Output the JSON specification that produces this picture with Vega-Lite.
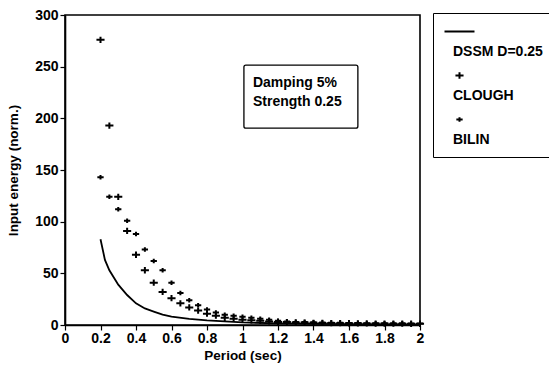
{
  "$schema": "https://vega.github.io/schema/vega-lite/v6.json",
  "width": 355,
  "height": 310,
  "autosize": {"type": "none"},
  "padding": {"left": 65, "top": 15, "right": 129, "bottom": 43},
  "config": {
    "font": "Liberation Sans",
    "view": {"stroke": "black", "strokeWidth": 1.6},
    "style": {"guide-label": {"lineHeight": 13}},
    "axis": {"domainColor": "black", "domainWidth": 1.6, "tickColor": "black", "tickWidth": 1.2, "labelColor": "black", "titleColor": "black", "labelFontSize": 14, "labelFontWeight": "bold", "titleFontSize": 13.5, "titleFontWeight": "bold", "grid": false, "tickSize": 5, "labelOverlap": false}
  },
  "datasets": {
    "pts": [
      {"period": 0.2, "energy": 276, "series": "CLOUGH"},
      {"period": 0.25, "energy": 193, "series": "CLOUGH"},
      {"period": 0.3, "energy": 124, "series": "CLOUGH"},
      {"period": 0.35, "energy": 91, "series": "CLOUGH"},
      {"period": 0.4, "energy": 68, "series": "CLOUGH"},
      {"period": 0.45, "energy": 53, "series": "CLOUGH"},
      {"period": 0.5, "energy": 41, "series": "CLOUGH"},
      {"period": 0.55, "energy": 32, "series": "CLOUGH"},
      {"period": 0.6, "energy": 26, "series": "CLOUGH"},
      {"period": 0.65, "energy": 21, "series": "CLOUGH"},
      {"period": 0.7, "energy": 17, "series": "CLOUGH"},
      {"period": 0.75, "energy": 14, "series": "CLOUGH"},
      {"period": 0.8, "energy": 11, "series": "CLOUGH"},
      {"period": 0.85, "energy": 9, "series": "CLOUGH"},
      {"period": 0.9, "energy": 7, "series": "CLOUGH"},
      {"period": 0.95, "energy": 6, "series": "CLOUGH"},
      {"period": 1.0, "energy": 5, "series": "CLOUGH"},
      {"period": 1.05, "energy": 4.5, "series": "CLOUGH"},
      {"period": 1.1, "energy": 4, "series": "CLOUGH"},
      {"period": 1.15, "energy": 3.5, "series": "CLOUGH"},
      {"period": 1.2, "energy": 3, "series": "CLOUGH"},
      {"period": 1.25, "energy": 2.8, "series": "CLOUGH"},
      {"period": 1.3, "energy": 2.5, "series": "CLOUGH"},
      {"period": 1.35, "energy": 2.3, "series": "CLOUGH"},
      {"period": 1.4, "energy": 2.1, "series": "CLOUGH"},
      {"period": 1.45, "energy": 2, "series": "CLOUGH"},
      {"period": 1.5, "energy": 1.9, "series": "CLOUGH"},
      {"period": 1.55, "energy": 1.8, "series": "CLOUGH"},
      {"period": 1.6, "energy": 1.7, "series": "CLOUGH"},
      {"period": 1.65, "energy": 1.6, "series": "CLOUGH"},
      {"period": 1.7, "energy": 1.5, "series": "CLOUGH"},
      {"period": 1.75, "energy": 1.4, "series": "CLOUGH"},
      {"period": 1.8, "energy": 1.4, "series": "CLOUGH"},
      {"period": 1.85, "energy": 1.3, "series": "CLOUGH"},
      {"period": 1.9, "energy": 1.3, "series": "CLOUGH"},
      {"period": 1.95, "energy": 1.2, "series": "CLOUGH"},
      {"period": 2.0, "energy": 1.2, "series": "CLOUGH"},
      {"period": 0.2, "energy": 143, "series": "BILIN"},
      {"period": 0.25, "energy": 124, "series": "BILIN"},
      {"period": 0.3, "energy": 112, "series": "BILIN"},
      {"period": 0.35, "energy": 101, "series": "BILIN"},
      {"period": 0.4, "energy": 88, "series": "BILIN"},
      {"period": 0.45, "energy": 73, "series": "BILIN"},
      {"period": 0.5, "energy": 62, "series": "BILIN"},
      {"period": 0.55, "energy": 53, "series": "BILIN"},
      {"period": 0.6, "energy": 41, "series": "BILIN"},
      {"period": 0.65, "energy": 31, "series": "BILIN"},
      {"period": 0.7, "energy": 24, "series": "BILIN"},
      {"period": 0.75, "energy": 19, "series": "BILIN"},
      {"period": 0.8, "energy": 15, "series": "BILIN"},
      {"period": 0.85, "energy": 12, "series": "BILIN"},
      {"period": 0.9, "energy": 10, "series": "BILIN"},
      {"period": 0.95, "energy": 9, "series": "BILIN"},
      {"period": 1.0, "energy": 8, "series": "BILIN"},
      {"period": 1.05, "energy": 7, "series": "BILIN"},
      {"period": 1.1, "energy": 6, "series": "BILIN"},
      {"period": 1.15, "energy": 5, "series": "BILIN"},
      {"period": 1.2, "energy": 4, "series": "BILIN"},
      {"period": 1.25, "energy": 3.5, "series": "BILIN"},
      {"period": 1.3, "energy": 3, "series": "BILIN"},
      {"period": 1.35, "energy": 2.8, "series": "BILIN"},
      {"period": 1.4, "energy": 2.6, "series": "BILIN"},
      {"period": 1.45, "energy": 2.4, "series": "BILIN"},
      {"period": 1.5, "energy": 2.2, "series": "BILIN"},
      {"period": 1.55, "energy": 2.1, "series": "BILIN"},
      {"period": 1.6, "energy": 2, "series": "BILIN"},
      {"period": 1.65, "energy": 1.9, "series": "BILIN"},
      {"period": 1.7, "energy": 1.8, "series": "BILIN"},
      {"period": 1.75, "energy": 1.7, "series": "BILIN"},
      {"period": 1.8, "energy": 1.7, "series": "BILIN"},
      {"period": 1.85, "energy": 1.6, "series": "BILIN"},
      {"period": 1.9, "energy": 1.6, "series": "BILIN"},
      {"period": 1.95, "energy": 1.5, "series": "BILIN"},
      {"period": 2.0, "energy": 1.5, "series": "BILIN"}
    ],
    "dssm": [
      {"period": 0.2, "energy": 83},
      {"period": 0.225, "energy": 63},
      {"period": 0.25, "energy": 53},
      {"period": 0.275, "energy": 46},
      {"period": 0.3, "energy": 39},
      {"period": 0.35, "energy": 29},
      {"period": 0.4, "energy": 21},
      {"period": 0.45, "energy": 16},
      {"period": 0.5, "energy": 13},
      {"period": 0.55, "energy": 10},
      {"period": 0.6, "energy": 8},
      {"period": 0.7, "energy": 6},
      {"period": 0.8, "energy": 4.5},
      {"period": 0.9, "energy": 3.5},
      {"period": 1.0, "energy": 2.5},
      {"period": 1.2, "energy": 1.5},
      {"period": 1.4, "energy": 1},
      {"period": 1.6, "energy": 0.8},
      {"period": 1.8, "energy": 0.6},
      {"period": 2.0, "energy": 0.5}
    ],
    "note": [{"line1": "Damping 5%", "line2": "Strength 0.25"}]
  },
  "layer": [
    {
      "encoding": {
        "x": {"field": "period", "type": "quantitative", "scale": {"domain": [0, 2], "nice": false},
              "axis": {"title": "Period (sec)", "values": [0,0.2,0.4,0.6,0.8,1,1.2,1.4,1.6,1.8,2], "format": "~g", "labelPadding": 1, "titlePadding": 3, "labelOverlap": false, "labelFlush": false}},
        "y": {"field": "energy", "type": "quantitative", "scale": {"domain": [0, 300], "nice": false},
              "axis": {"title": "Input energy (norm.)", "values": [0,50,100,150,200,250,300], "labelPadding": 2, "titlePadding": 14, "labelOverlap": false, "labelFlush": false}}
      },
      "layer": [
        {
          "data": {"name": "dssm"},
          "mark": {"type": "line", "color": "black", "strokeWidth": 1.8}
        },
        {
          "data": {"name": "pts"},
          "mark": {"type": "point", "filled": false, "stroke": "black", "strokeWidth": 2, "size": 225, "opacity": 1},
          "encoding": {
            "shape": {"field": "series", "type": "nominal",
              "scale": {"domain": ["DSSM D=0.25", "CLOUGH", "BILIN"], "range": ["M-2,0H2", "M-0.54,0H0.54M0,-0.42V0.42", "M-0.42,0H0.42M0,-0.3V0.3"]},
              "legend": {"title": null, "orient": "none", "legendX": 368, "legendY": -2, "strokeColor": "black", "fillColor": "white", "padding": 10, "cornerRadius": 0,
                "labelExpr": "['', datum.label]", "labelBaseline": "top", "labelOffset": -15, "symbolOffset": 8, "labelFontSize": 14, "labelFontWeight": "bold", "labelColor": "black", "labelLimit": 200,
                "symbolSize": 225, "symbolStrokeWidth": 2, "symbolStrokeColor": "black", "symbolFillColor": "transparent", "symbolOpacity": 1, "rowPadding": 8}
            }
          }
        }
      ]
    },
    {
      "data": {"name": "note"},
      "mark": {"type": "rect", "fill": "white", "stroke": "black", "strokeWidth": 1.3, "cornerRadius": 2},
      "encoding": {
        "x": {"datum": 1.008, "type": "quantitative",
              "axis": {"title": "Period (sec)", "values": [0,0.2,0.4,0.6,0.8,1,1.2,1.4,1.6,1.8,2], "format": "~g", "labelPadding": 1, "titlePadding": 3, "labelOverlap": false, "labelFlush": false}},
        "x2": {"datum": 1.65},
        "y": {"datum": 251.5, "type": "quantitative",
              "axis": {"title": "Input energy (norm.)", "values": [0,50,100,150,200,250,300], "labelPadding": 2, "titlePadding": 14, "labelOverlap": false, "labelFlush": false}},
        "y2": {"datum": 190.5}
      }
    },
    {
      "data": {"name": "note"},
      "mark": {"type": "text", "align": "left", "baseline": "middle", "fontSize": 14, "fontWeight": "bold", "color": "black"},
      "encoding": {
        "x": {"datum": 1.059, "type": "quantitative",
              "axis": {"title": "Period (sec)", "values": [0,0.2,0.4,0.6,0.8,1,1.2,1.4,1.6,1.8,2], "format": "~g", "labelPadding": 1, "titlePadding": 3, "labelOverlap": false, "labelFlush": false}},
        "y": {"datum": 234, "type": "quantitative",
              "axis": {"title": "Input energy (norm.)", "values": [0,50,100,150,200,250,300], "labelPadding": 2, "titlePadding": 14, "labelOverlap": false, "labelFlush": false}},
        "text": {"field": "line1"}
      }
    },
    {
      "data": {"name": "note"},
      "mark": {"type": "text", "align": "left", "baseline": "middle", "fontSize": 14, "fontWeight": "bold", "color": "black"},
      "encoding": {
        "x": {"datum": 1.059, "type": "quantitative",
              "axis": {"title": "Period (sec)", "values": [0,0.2,0.4,0.6,0.8,1,1.2,1.4,1.6,1.8,2], "format": "~g", "labelPadding": 1, "titlePadding": 3, "labelOverlap": false, "labelFlush": false}},
        "y": {"datum": 216, "type": "quantitative",
              "axis": {"title": "Input energy (norm.)", "values": [0,50,100,150,200,250,300], "labelPadding": 2, "titlePadding": 14, "labelOverlap": false, "labelFlush": false}},
        "text": {"field": "line2"}
      }
    }
  ]
}
